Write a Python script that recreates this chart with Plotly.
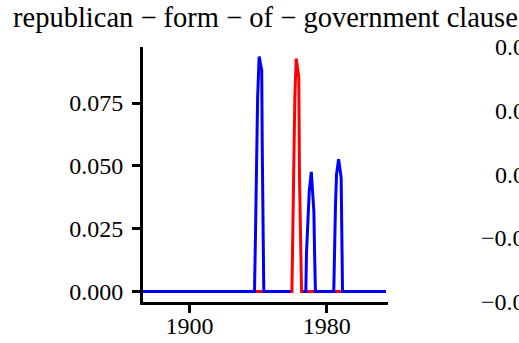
import plotly.graph_objects as go

# ---- data ----
title_text = "republican − form − of − government clause"

blue_years = [1873, 1937.9, 1938.5, 1939.1, 1939.7, 1940.6, 1942.1, 1942.4, 1942.6, 1942.9, 1943.3,
              1959.0, None, 1966.3,
              1967.8, 1968.2, 1969.0, 1969.8, 1971.0, 1972.5, 1972.9, 1973.4,
              1984.1, 1984.5, 1985.1, 1985.7, 1986.9, 1988.4, 1988.8, 1989.2,
              2014.5]
blue_vals = [0, 0, 0.024, 0.049, 0.077, 0.0935, 0.088, 0.058, 0.035, 0.019, 0,
             0, None, 0,
             0, 0.0155, 0.0305, 0.0398, 0.0476, 0.0318, 0.0158, 0,
             0, 0.0178, 0.0345, 0.0466, 0.0526, 0.0452, 0.0191, 0,
             0]

red_years = [1873, 1959.7, 1960.2, 1960.8, 1961.4, 1962.2, 1963.7, 1964.1, 1964.7, 1965.3, 2014.5]
red_vals = [0, 0, 0.0226, 0.0566, 0.0773, 0.0927, 0.0853, 0.0465, 0.0173, 0, 0]

y_ticks = [0.0, 0.025, 0.05, 0.075]
y_ticklabels = ["0.000", "0.025", "0.050", "0.075"]
x_ticks = [1900, 1980]
x_ticklabels = ["1900", "1980"]

# neighbouring (cut-off) panel's tick labels
right_labels = ["0.04", "0.02", "0.00", "−0.02", "−0.04"]
right_label_pos = [1.0, 0.75, 0.5, 0.25, 0.0]

FONT = "Liberation Serif"

fig = go.Figure()
fig.add_trace(go.Scatter(x=red_years, y=red_vals, mode="lines",
                         line=dict(color="#ff0000", width=3), connectgaps=False,
                         hoverinfo="skip", showlegend=False))
fig.add_trace(go.Scatter(x=blue_years, y=blue_vals, mode="lines",
                         line=dict(color="#0000ff", width=3), connectgaps=False,
                         hoverinfo="skip", showlegend=False))

annotations = [
    dict(text=title_text, xref="paper", yref="paper", x=0.5, y=1.0,
         xanchor="center", yanchor="bottom", yshift=12, showarrow=False,
         font=dict(family=FONT, size=28.5, color="#000000"))
]
for lab, pos in zip(right_labels, right_label_pos):
    annotations.append(dict(text=lab, xref="paper", yref="paper", x=1.616, y=pos,
                            xanchor="right", yanchor="middle", showarrow=False,
                            font=dict(family=FONT, size=24, color="#000000")))

fig.update_layout(
    width=519, height=343,
    margin=dict(l=143, r=131, t=47, b=41, pad=0, autoexpand=False),
    paper_bgcolor="white", plot_bgcolor="white",
    font=dict(family=FONT, size=24, color="#000000"),
    annotations=annotations,
    xaxis=dict(range=[1872.9, 2015.7], tickvals=x_ticks, ticktext=x_ticklabels,
               showgrid=False, zeroline=False, showline=True, linecolor="black",
               linewidth=3, ticks="outside", ticklen=8, tickwidth=2.5,
               tickcolor="black", ticklabelstandoff=-8, automargin=False),
    yaxis=dict(range=[-0.0042, 0.0973], tickvals=y_ticks, ticktext=y_ticklabels,
               showgrid=False, zeroline=False, showline=True, linecolor="black",
               linewidth=3, ticks="outside", ticklen=8, tickwidth=2.5,
               tickcolor="black", ticklabelstandoff=4, automargin=False),
    hovermode=False,
)

fig.write_html("out.html", config={"displayModeBar": False},
               post_script="document.body.style.margin='0';document.body.style.overflow='hidden';")
